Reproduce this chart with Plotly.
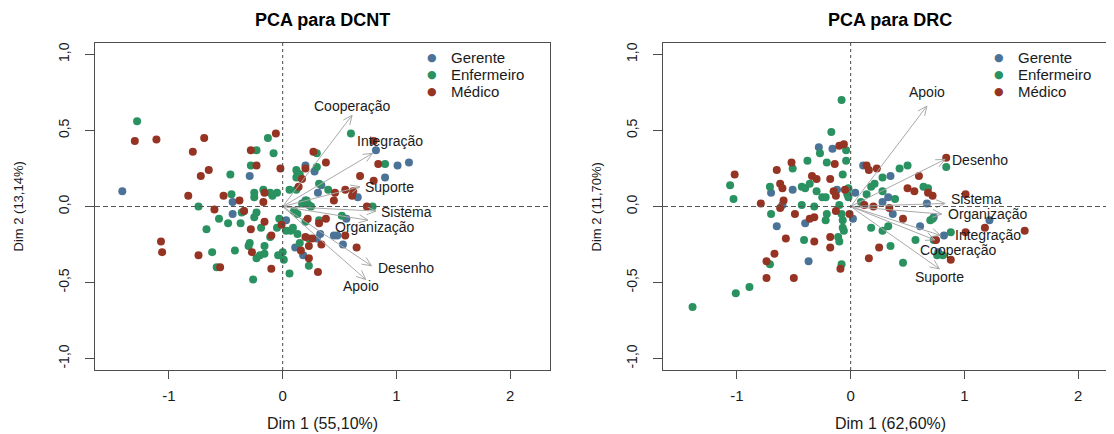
import math
import plotly.graph_objects as go

# ---------------- data ----------------
groups = ["Gerente", "Enfermeiro", "Médico"]
group_colors = ["#4B7398", "#2A9160", "#963424"]

# PCA para DCNT
dcnt_ger_x = [-1.41, -0.29, -0.44, -0.44, 0.03, 0.11, 0.18, 0.20, 0.20, 0.28, 0.34, 0.31, 0.66, 0.56, 0.45, 0.48, 0.53, 0.33, 0.30, 0.90, 1.01, 1.11, 0.82]
dcnt_ger_y = [0.10, 0.20, 0.03, -0.05, -0.09, -0.27, -0.32, 0.04, 0.27, 0.23, 0.14, 0.09, 0.06, -0.08, -0.19, -0.19, -0.25, -0.18, -0.21, 0.19, 0.27, 0.29, 0.37]
dcnt_enf_x = [-1.28, -0.74, -0.45, -0.46, -0.23, -0.08, -0.13, -0.28, -0.25, -0.25, -0.17, -0.09, -0.05, -0.34, -0.36, -0.23, -0.25, -0.56, -0.48, -0.37, -0.67, -0.19, -0.03, -0.11, -0.62, -0.42, -0.29, -0.30, -0.16, -0.20, -0.16, -0.23, -0.04, 0.00, 0.01, -0.58, -0.26, 0.06, 0.03, 0.07, 0.09, 0.15, 0.13, 0.10, 0.13, 0.20, 0.23, 0.25, 0.23, 0.32, 0.23, 0.06, 0.12, 0.12, 0.13, 0.12, 0.30, 0.30, 0.32, 0.40, 0.52, 0.79, 0.90, 0.60, -0.11, -0.05, 0.15, 0.17, 0.21]
dcnt_enf_y = [0.56, 0.00, 0.08, 0.21, 0.37, 0.35, 0.45, 0.27, 0.09, 0.06, 0.11, 0.07, 0.09, -0.03, -0.04, -0.04, -0.07, -0.08, -0.11, -0.11, -0.15, -0.14, -0.08, -0.20, -0.30, -0.29, -0.24, -0.26, -0.26, -0.32, -0.31, -0.34, -0.32, -0.30, -0.35, -0.40, -0.48, -0.44, -0.16, -0.16, -0.14, -0.24, -0.18, -0.03, -0.05, -0.10, 0.01, 0.00, -0.21, -0.09, -0.39, 0.11, 0.11, 0.19, 0.22, 0.24, 0.26, 0.35, 0.15, 0.11, -0.06, 0.00, 0.28, 0.48, 0.09, -0.14, 0.21, 0.02, 0.04]
dcnt_med_x = [-1.30, -1.11, -0.69, -0.79, -0.65, -0.72, -0.83, -0.60, -0.52, -0.28, -0.06, -0.23, -0.02, -0.38, -0.16, -0.17, -0.34, -0.16, -0.28, -0.01, -0.10, -1.07, -1.06, -0.74, -0.27, -0.55, -0.10, 0.16, 0.23, 0.31, 0.20, 0.23, 0.34, 0.32, 0.38, 0.22, 0.14, 0.17, 0.20, 0.27, 0.38, 0.46, 0.45, 0.55, 0.61, 0.62, 0.55, 0.65, 0.74, 0.68, 0.80, 0.84, 0.80, 0.26]
dcnt_med_y = [0.43, 0.44, 0.45, 0.36, 0.24, 0.20, 0.07, -0.02, 0.07, 0.37, 0.48, 0.27, 0.25, 0.04, 0.09, 0.03, -0.03, -0.10, -0.15, -0.12, -0.19, -0.23, -0.30, -0.32, -0.30, -0.40, -0.41, -0.29, -0.34, -0.43, -0.20, -0.26, -0.25, -0.11, -0.08, -0.08, 0.13, 0.18, 0.25, 0.36, 0.29, 0.09, 0.04, 0.11, 0.07, 0.10, -0.19, -0.27, 0.00, 0.20, 0.17, 0.28, 0.43, -0.21]
dcnt_vars = ["Cooperação", "Integração", "Suporte", "Sistema", "Organização", "Desenho", "Apoio"]
dcnt_vx = [0.61, 0.79, 0.68, 0.82, 0.75, 0.78, 0.73]
dcnt_vy = [0.60, 0.35, 0.13, -0.03, -0.09, -0.39, -0.48]

# PCA para DRC
drc_ger_x = [-0.70, -0.51, -0.65, -0.40, -0.37, -0.28, -0.16, -0.12, 0.04, 0.02, 0.11, 0.35, 0.33, 0.28, 0.37, 0.61, 0.67, 0.73, 0.82, 0.77, 1.22, -0.60]
drc_ger_y = [0.09, 0.11, -0.13, -0.11, -0.36, 0.39, 0.38, 0.11, 0.09, -0.08, 0.27, 0.20, 0.06, 0.03, -0.05, -0.13, 0.02, -0.07, -0.19, -0.30, -0.09, 0.01]
drc_enf_x = [-1.39, -1.01, -0.89, -1.06, -1.03, -0.71, -0.70, -0.71, -0.51, -0.38, -0.43, -0.40, -0.36, -0.30, -0.43, -0.32, -0.41, -0.27, -0.21, -0.17, -0.08, -0.04, -0.04, -0.07, -0.25, -0.22, -0.21, -0.22, -0.11, -0.10, -0.07, -0.06, -0.08, -0.10, -0.03, -0.02, -0.08, -0.07, -0.02, 0.09, 0.14, 0.18, 0.21, 0.28, 0.28, 0.39, 0.43, 0.50, 0.64, 0.68, 0.84, 0.18, 0.28, 0.33, 0.35, 0.46, 0.57, 0.70, 0.72, 0.73, 0.76, 0.81, 0.88]
drc_enf_y = [-0.66, -0.57, -0.53, 0.14, 0.05, 0.13, -0.05, -0.38, 0.25, 0.30, 0.13, 0.12, 0.15, 0.10, 0.01, 0.00, -0.22, 0.35, 0.29, 0.49, 0.70, 0.37, 0.30, 0.21, 0.06, 0.06, -0.05, -0.09, -0.20, -0.23, -0.14, -0.16, -0.38, 0.01, 0.08, 0.12, -0.05, -0.09, 0.06, 0.03, 0.08, 0.13, 0.15, 0.19, 0.10, 0.05, 0.25, 0.27, 0.13, 0.12, 0.26, -0.14, -0.16, -0.13, -0.26, -0.37, -0.22, -0.09, -0.08, -0.22, -0.32, -0.32, -0.17]
drc_med_x = [-1.02, -0.79, -0.65, -0.62, -0.60, -0.59, -0.62, -0.52, -0.49, -0.57, -0.67, -0.74, -0.74, -0.50, -0.34, -0.30, -0.36, -0.32, -0.32, -0.18, -0.18, -0.18, -0.14, -0.10, -0.06, -0.15, -0.13, -0.05, -0.13, -0.01, -0.09, 0.14, 0.16, 0.23, 0.12, 0.20, 0.34, 0.46, 0.25, 0.16, 0.50, 0.56, 0.60, 0.68, 0.72, 0.84, 1.01, 1.18, 1.01, 1.53, 0.75, 0.88]
drc_med_y = [0.21, 0.02, 0.24, 0.15, 0.12, 0.04, -0.01, 0.29, -0.05, -0.21, -0.31, -0.36, -0.47, -0.47, 0.20, 0.18, -0.08, -0.07, -0.23, -0.20, -0.27, 0.18, 0.28, 0.40, 0.41, 0.10, 0.07, 0.11, -0.03, -0.05, -0.41, 0.27, 0.24, 0.25, 0.01, 0.00, -0.01, -0.08, -0.27, -0.34, 0.12, 0.10, 0.20, 0.09, 0.07, 0.32, 0.08, -0.14, -0.17, -0.16, -0.22, -0.35]
drc_vars = ["Apoio", "Desenho", "Sistema", "Organização", "Integração", "Cooperação", "Suporte"]
drc_vx = [0.67, 0.83, 0.83, 0.80, 0.79, 0.74, 0.78]
drc_vy = [0.66, 0.31, 0.02, -0.05, -0.19, -0.22, -0.41]

x_ticks = [-1, 0, 1, 2]
x_ticklabels = ["-1", "0", "1", "2"]
y_ticks = [-1.0, -0.5, 0.0, 0.5, 1.0]
y_ticklabels = ["-1,0", "-0,5", "0,0", "0,5", "1,0"]

titles = ["PCA para DCNT", "PCA para DRC"]
xtitles = ["Dim 1 (55,10%)", "Dim 1 (62,60%)"]
ytitles = ["Dim 2 (13,14%)", "Dim 2 (11,70%)"]

# ---------------- layout helpers (page pixels -> paper) ----------------
# the page body keeps an 8px margin, so the figure is placed at (8, 8)
PAGE_W, PAGE_H = 1114, 434
OFF = 8
W, H = PAGE_W - OFF, PAGE_H - OFF
FONT = "Liberation Sans, Arial, Helvetica, sans-serif"
TXT = "#1a1a1a"
AX = "#4d4d4d"


def pxx(p):
    return (p - OFF) / W


def pxy(p):
    return 1 - (p - OFF) / H


panels = [
    dict(left=95, right=550, xrange=[-1.65, 2.35], mirror=True, cx=322.5, ytx=18),
    dict(left=663, right=1114, xrange=[-1.65, 2.315], mirror=False, cx=890, ytx=596),
]
TOP, BOT = 43, 370
YRANGE = [-1.075, 1.075]

# label placement (xanchor, xshift px, yshift px)
dcnt_lab = [("center", 0, 9), ("center", 17, 12), ("left", 3, 0), ("left", 3, -1),
            ("center", 7, -7), ("left", 5, -2), ("center", -5, -6)]
drc_lab = [("center", 0, 14), ("left", 5, -1), ("left", 4, 4), ("left", 4, 0),
           ("left", 12, 0), ("center", 23, -10), ("center", 0, -8)]

sets = [
    dict(pts=[(dcnt_ger_x, dcnt_ger_y), (dcnt_enf_x, dcnt_enf_y), (dcnt_med_x, dcnt_med_y)],
         vars=dcnt_vars, vx=dcnt_vx, vy=dcnt_vy, lab=dcnt_lab),
    dict(pts=[(drc_ger_x, drc_ger_y), (drc_enf_x, drc_enf_y), (drc_med_x, drc_med_y)],
         vars=drc_vars, vx=drc_vx, vy=drc_vy, lab=drc_lab),
]

fig = go.Figure()
annotations = []
shapes = []

for i, (pan, s) in enumerate(zip(panels, sets)):
    xa = "x" if i == 0 else "x2"
    ya = "y" if i == 0 else "y2"
    sx = (pan["right"] - pan["left"]) / (pan["xrange"][1] - pan["xrange"][0])
    sy = (BOT - TOP) / (YRANGE[1] - YRANGE[0])

    # points
    for (gx, gy), name, col in zip(s["pts"], groups, group_colors):
        fig.add_trace(go.Scatter(x=gx, y=gy, mode="markers", name=name,
                                 marker=dict(color=col, size=8, line=dict(width=0)),
                                 showlegend=False, xaxis=xa, yaxis=ya))

    # arrows (shaft + open V head)
    ax_x, ax_y = [], []
    L, ang = 10.0, math.radians(24)
    for vx, vy in zip(s["vx"], s["vy"]):
        ax_x += [0, vx, None]
        ax_y += [0, vy, None]
        px_, py_ = vx * sx, vy * sy
        n = math.hypot(px_, py_)
        ux, uy = px_ / n, py_ / n
        head = []
        for sgn in (1, -1):
            c, si = math.cos(ang), math.sin(sgn * ang)
            rx, ry = ux * c - uy * si, ux * si + uy * c
            head.append(((px_ - L * rx) / sx, (py_ - L * ry) / sy))
        ax_x += [head[0][0], vx, head[1][0], None]
        ax_y += [head[0][1], vy, head[1][1], None]
    fig.add_trace(go.Scatter(x=ax_x, y=ax_y, mode="lines", showlegend=False,
                             line=dict(color="#a9a9a9", width=1), hoverinfo="skip",
                             xaxis=xa, yaxis=ya))

    for name, vx, vy, (xanc, xs, ys) in zip(s["vars"], s["vx"], s["vy"], s["lab"]):
        annotations.append(dict(x=vx, y=vy, xref=xa, yref=ya, text=name, showarrow=False,
                                xanchor=xanc, yanchor="middle", xshift=xs, yshift=ys,
                                font=dict(family=FONT, size=14, color=TXT)))

    # dashed zero lines
    shapes.append(dict(type="line", xref=xa, yref=ya + " domain", x0=0, x1=0, y0=0, y1=1,
                       line=dict(color="#444444", width=1, dash="3px,3px"), layer="above"))
    shapes.append(dict(type="line", xref=xa + " domain", yref=ya, x0=0, x1=1, y0=0, y1=0,
                       line=dict(color="#555555", width=1, dash="5px,3px"), layer="above"))

    cx = pan["cx"]
    # title (top of the figure area)
    annotations.append(dict(x=pxx(cx), y=1.0, xref="paper", yref="paper",
                            text="<b>" + titles[i] + "</b>", showarrow=False,
                            xanchor="center", yanchor="top",
                            font=dict(family=FONT, size=18, color="#000000")))
    # axis titles
    annotations.append(dict(x=pxx(cx), y=pxy(423), xref="paper", yref="paper",
                            text=xtitles[i], showarrow=False, xanchor="center", yanchor="middle",
                            font=dict(family=FONT, size=16, color=TXT)))
    annotations.append(dict(x=pxx(pan["ytx"]), y=pxy((TOP + BOT) / 2), xref="paper",
                            yref="paper", text=ytitles[i], showarrow=False, textangle=-90,
                            xanchor="center", yanchor="middle",
                            font=dict(family=FONT, size=13, color=TXT)))
    # legend (R style: point + label)
    lx = 432 if i == 0 else 999
    for k, (name, col) in enumerate(zip(groups, group_colors)):
        yy = 57 + k * 17.5
        annotations.append(dict(x=pxx(lx), y=pxy(yy), xref="paper", yref="paper", text="●",
                                showarrow=False, xanchor="center", yanchor="middle",
                                font=dict(family="DejaVu Sans", size=11, color=col)))
        annotations.append(dict(x=pxx(lx + 17), y=pxy(yy), xref="paper", yref="paper",
                                text=name, showarrow=False, xanchor="left", yanchor="middle",
                                font=dict(family=FONT, size=15, color=TXT)))

    xaxis = dict(domain=[pxx(pan["left"]), min(1.0, pxx(pan["right"]))], range=pan["xrange"],
                 tickvals=x_ticks, ticktext=x_ticklabels, ticks="outside", ticklen=8,
                 tickcolor=AX, showline=True, linecolor=AX, linewidth=1.2, mirror=True,
                 showgrid=False, zeroline=False, ticklabelstandoff=4,
                 tickfont=dict(family=FONT, size=15, color=TXT), anchor=ya, fixedrange=True)
    yaxis = dict(domain=[pxy(BOT), pxy(TOP)], range=YRANGE,
                 tickvals=y_ticks, ticktext=y_ticklabels, ticks="outside", ticklen=9,
                 tickcolor=AX, showline=True, linecolor=AX, linewidth=1.2, mirror=pan["mirror"],
                 showgrid=False, zeroline=False, tickangle=-90, ticklabelstandoff=10,
                 tickfont=dict(family=FONT, size=14, color=TXT), anchor=xa, fixedrange=True)
    if i == 0:
        fig.update_layout(xaxis=xaxis, yaxis=yaxis)
    else:
        fig.update_layout(xaxis2=xaxis, yaxis2=yaxis)

fig.update_layout(
    width=W, height=H,
    margin=dict(l=0, r=0, t=0, b=0),
    paper_bgcolor="white", plot_bgcolor="white",
    showlegend=False,
    annotations=annotations, shapes=shapes,
    font=dict(family=FONT, color=TXT),
)

fig.write_html("out.html")
